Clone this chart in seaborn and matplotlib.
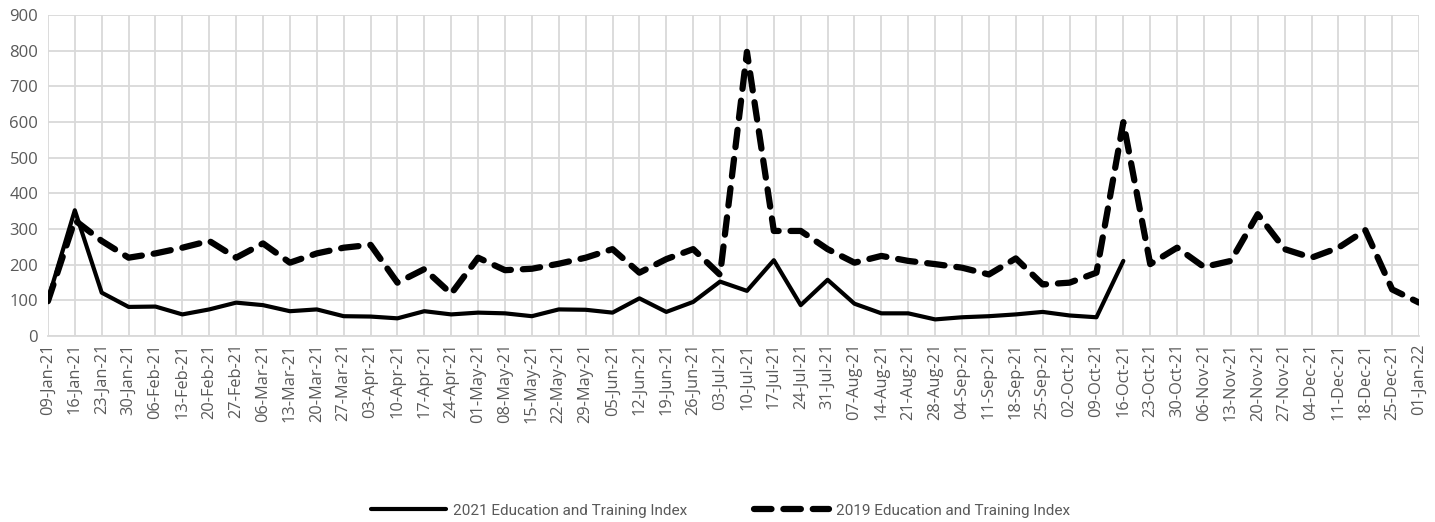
import matplotlib
matplotlib.use("Agg")
import matplotlib.pyplot as plt
from matplotlib import font_manager
import seaborn as sns
import pandas as pd

weeks = [
    "09-Jan-21", "16-Jan-21", "23-Jan-21", "30-Jan-21", "06-Feb-21", "13-Feb-21",
    "20-Feb-21", "27-Feb-21", "06-Mar-21", "13-Mar-21", "20-Mar-21", "27-Mar-21",
    "03-Apr-21", "10-Apr-21", "17-Apr-21", "24-Apr-21", "01-May-21", "08-May-21",
    "15-May-21", "22-May-21", "29-May-21", "05-Jun-21", "12-Jun-21", "19-Jun-21",
    "26-Jun-21", "03-Jul-21", "10-Jul-21", "17-Jul-21", "24-Jul-21", "31-Jul-21",
    "07-Aug-21", "14-Aug-21", "21-Aug-21", "28-Aug-21", "04-Sep-21", "11-Sep-21",
    "18-Sep-21", "25-Sep-21", "02-Oct-21", "09-Oct-21", "16-Oct-21", "23-Oct-21",
    "30-Oct-21", "06-Nov-21", "13-Nov-21", "20-Nov-21", "27-Nov-21", "04-Dec-21",
    "11-Dec-21", "18-Dec-21", "25-Dec-21", "01-Jan-22",
]

index_2021 = [
    102, 353, 122, 82, 83, 61, 75, 94, 87, 70, 75, 56,
    55, 50, 70, 61, 66, 64, 56, 75, 74, 66, 106, 68,
    96, 153, 127, 213, 87, 158, 91, 64, 64, 47, 53, 56,
    61, 68, 58, 53, 211,
]

index_2019 = [
    98, 325, 267, 220, 232, 248, 267, 220, 260, 206, 232, 248,
    256, 150, 188, 119, 220, 185, 189, 203, 220, 244, 178, 216,
    244, 172, 797, 295, 295, 244, 206, 225, 211, 202, 192, 173,
    218, 145, 150, 178, 600, 202, 248, 194, 211, 342, 244, 220,
    248, 297, 131, 94,
]

label_2021 = "2021 Education and Training Index"
label_2019 = "2019 Education and Training Index"

df21 = pd.DataFrame({"pos": range(len(index_2021)), "value": index_2021})
df19 = pd.DataFrame({"pos": range(len(index_2019)), "value": index_2019})

sns.set_theme(style="white")
plt.rcParams["font.family"] = ["Open Sans", "DejaVu Sans"]

# narrow face for the legend if available
installed = {f.name for f in font_manager.fontManager.ttflist}
legend_family = ["Liberation Sans Narrow"] if "Liberation Sans Narrow" in installed else ["Roboto", "DejaVu Sans"]
legend_stretch = "normal" if "Liberation Sans Narrow" in installed else "condensed"

fig = plt.figure(figsize=(14.35, 5.22), dpi=100)
ax = fig.add_axes([0.0334, 0.356, 0.9555, 0.615])

sns.lineplot(data=df21, x="pos", y="value", ax=ax, color="black",
             linewidth=3.0, label=label_2021, solid_capstyle="round")
sns.lineplot(data=df19, x="pos", y="value", ax=ax, color="black",
             linewidth=4.5, label=label_2019, dashes=False)
dashed = ax.lines[-1]
dashed.set_linestyle((0, (2.8, 1.9)))
dashed.set_dash_capstyle("round")

ax.set_xlim(0, len(weeks) - 1)
ax.set_ylim(0, 900)
ax.set_xticks(range(len(weeks)))
ax.set_xticklabels(weeks, rotation=90, fontsize=11.8, color="#595959")
ax.set_yticks(range(0, 901, 100))
ax.tick_params(axis="y", labelsize=12, labelcolor="#595959", length=0, pad=7)
ax.tick_params(axis="x", length=0, pad=5)
ax.set_xlabel("")
ax.set_ylabel("")

ax.grid(True, color="#d9d9d9", linewidth=1.3)
ax.set_axisbelow(True)
for side in ["top", "right", "left"]:
    ax.spines[side].set_visible(False)
ax.spines["bottom"].set_color("#d9d9d9")
ax.spines["bottom"].set_linewidth(1.3)

ax.legend_.remove()
handles, labels = ax.get_legend_handles_labels()
fig.legend(handles, labels, loc="lower center", bbox_to_anchor=(0.502, -0.018),
           ncol=2, frameon=False, handlelength=4.9, handletextpad=0.45,
           columnspacing=4.4,
           prop={"family": legend_family, "size": 11, "stretch": legend_stretch},
           labelcolor="#595959")

fig.savefig("out.png", dpi=100)
